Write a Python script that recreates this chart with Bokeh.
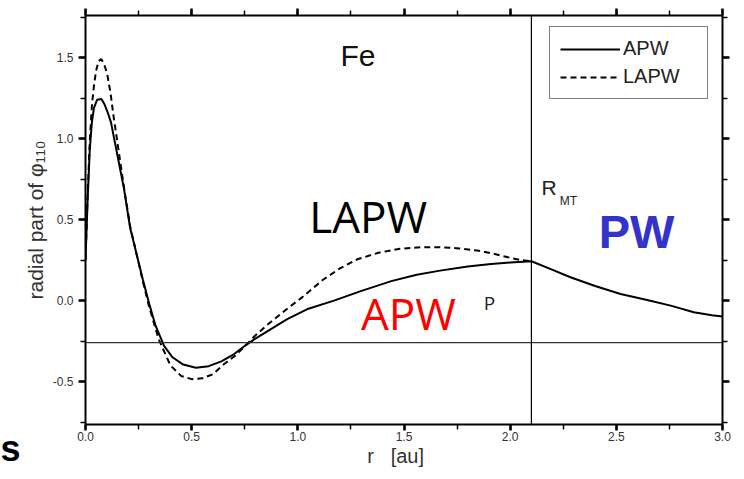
from bokeh.plotting import figure
from bokeh.models import (Span, Label, Legend, LegendItem, LinearAxis, CustomJSTickFormatter,
                          SingleIntervalTicker, PrintfTickFormatter, Range1d)
from bokeh.embed import file_html
from bokeh.resources import INLINE

# ---- data ----
apw_r = [0.0, 0.01, 0.02, 0.03, 0.04, 0.055, 0.075, 0.09, 0.105, 0.12, 0.135,
         0.15, 0.18, 0.21, 0.24, 0.27, 0.30, 0.33, 0.37, 0.41, 0.46, 0.52,
         0.58, 0.64, 0.70, 0.76, 0.80, 0.856, 0.95, 1.05, 1.17, 1.30, 1.44,
         1.56, 1.67, 1.80, 1.91, 2.00, 2.10]
apw_v = [0.25, 0.62, 0.93, 1.10, 1.19, 1.24, 1.245, 1.21, 1.16, 1.10, 1.00,
         0.90, 0.70, 0.45, 0.29, 0.13, -0.02, -0.155, -0.28, -0.35, -0.395, -0.415,
         -0.405, -0.375, -0.33, -0.27, -0.235, -0.19, -0.115, -0.05, 0.0, 0.06, 0.12,
         0.16, 0.185, 0.21, 0.226, 0.235, 0.243]

lapw_r = [0.0, 0.01, 0.02, 0.03, 0.04, 0.05, 0.062, 0.075, 0.09, 0.102, 0.118,
          0.133, 0.15, 0.18, 0.21, 0.24, 0.27, 0.30, 0.345, 0.40, 0.45, 0.50,
          0.55, 0.60, 0.65, 0.70, 0.754, 0.80, 0.856, 0.95, 1.02, 1.12, 1.20,
          1.28, 1.38, 1.48, 1.58, 1.67, 1.76, 1.845, 1.92, 1.99, 2.05, 2.10]
lapw_v = [0.25, 0.65, 0.98, 1.20, 1.33, 1.42, 1.48, 1.49, 1.45, 1.40, 1.28,
          1.13, 0.98, 0.71, 0.46, 0.29, 0.12, -0.04, -0.24, -0.40, -0.465, -0.485,
          -0.48, -0.455, -0.395, -0.345, -0.278, -0.215, -0.15, -0.05, 0.02, 0.13, 0.20,
          0.255, 0.295, 0.32, 0.33, 0.33, 0.322, 0.309, 0.29, 0.267, 0.25, 0.243]

pw_r = [2.10, 2.20, 2.284, 2.40, 2.52, 2.64, 2.756, 2.865, 2.95, 3.00]
pw_v = [0.243, 0.19, 0.144, 0.09, 0.041, 0.005, -0.031, -0.072, -0.09, -0.098]

r_mt = 2.1
energy_line = -0.26
x_ticks_interval = 0.5
y_ticks_interval = 0.5

FONT = "Liberation Sans"
NB = "\u00a0"

p = figure(width=736, height=476, x_range=Range1d(0, 3.0), y_range=Range1d(-0.765, 1.76),
           output_backend="svg", toolbar_location=None,
           min_border_left=85, min_border_right=14, min_border_top=15, min_border_bottom=52)
p.grid.visible = False
p.outline_line_color = None
p.background_fill_color = "white"


def style_axis(ax, labels=True):
    ax.axis_line_width = 2
    ax.axis_line_color = "black"
    ax.major_tick_line_width = 2.5
    ax.minor_tick_line_width = 1.5
    ax.major_tick_out = 7
    ax.major_tick_in = 0
    ax.minor_tick_out = 5
    ax.minor_tick_in = 0
    ax.major_tick_line_color = "black"
    ax.minor_tick_line_color = "black"
    if labels:
        ax.major_label_text_font = FONT
        ax.major_label_text_font_size = "12px"
        ax.major_label_text_color = "#333333"
        ax.formatter = PrintfTickFormatter(format="%.1f")
    else:
        ax.formatter = CustomJSTickFormatter(code="return ''")
        ax.major_label_text_font_size = "1px"
        ax.major_label_standoff = 0


p.xaxis[0].ticker = SingleIntervalTicker(interval=x_ticks_interval, num_minor_ticks=2)
p.yaxis[0].ticker = SingleIntervalTicker(interval=y_ticks_interval, num_minor_ticks=2)
style_axis(p.xaxis[0])
style_axis(p.yaxis[0])
p.xaxis[0].major_tick_out = 6
p.xaxis[0].major_label_standoff = 1
p.yaxis[0].major_label_standoff = 5
p.xaxis[0].axis_label = "r" + NB * 3 + "[au]" + NB * 3
p.yaxis[0].axis_label = "radial part of φ₁₁₀"
for ax in (p.xaxis[0], p.yaxis[0]):
    ax.axis_label_text_font = FONT
    ax.axis_label_text_font_style = "normal"
    ax.axis_label_text_color = "#333333"
p.xaxis[0].axis_label_text_font_size = "20px"
p.yaxis[0].axis_label_text_font_size = "21px"
p.xaxis[0].axis_label_standoff = 1
p.yaxis[0].axis_label_standoff = 3

ax_r = LinearAxis(ticker=SingleIntervalTicker(interval=y_ticks_interval, num_minor_ticks=2))
style_axis(ax_r, labels=False)
p.add_layout(ax_r, "right")
ax_t = LinearAxis(ticker=SingleIntervalTicker(interval=x_ticks_interval, num_minor_ticks=2))
style_axis(ax_t, labels=False)
p.add_layout(ax_t, "above")

# reference lines
p.add_layout(Span(location=energy_line, dimension="width", line_color="#333333", line_width=1.3))
p.add_layout(Span(location=r_mt, dimension="height", line_color="black", line_width=1.2))

# curves
l_lapw = p.line(lapw_r, lapw_v, line_color="black", line_width=2, line_dash="6 4")
l_apw = p.line(apw_r + pw_r, apw_v + pw_v, line_color="black", line_width=2)

legend = Legend(items=[LegendItem(label="APW", renderers=[l_apw]),
                       LegendItem(label="LAPW", renderers=[l_lapw])],
                location=(464, 325), orientation="vertical",
                label_text_font=FONT, label_text_font_size="20px", label_text_color="#222222",
                border_line_color="black", border_line_width=1,
                background_fill_color="white", background_fill_alpha=1,
                glyph_width=60, glyph_height=22, label_height=22, label_width=74,
                label_standoff=3, padding=10, spacing=5, margin=0)
p.add_layout(legend, "center")

# annotations
p.add_layout(Label(x=1.201, y=1.514, text="Fe", text_font=FONT, text_font_size="30px",
                   text_color="#111111", text_align="left", text_baseline="alphabetic"))
p.add_layout(Label(x=1.331, y=0.525, text="LAPW", text_font="Open Sans", text_font_size="44px",
                   text_color="black", text_align="center", text_baseline="alphabetic"))
p.add_layout(Label(x=1.521, y=-0.074, text="APW", text_font="Open Sans", text_font_size="44px",
                   text_color="#ff0000", text_align="center", text_baseline="alphabetic"))
p.add_layout(Label(x=1.875, y=-0.014, text="P", text_font="Open Sans", text_font_size="19px",
                   text_color="#222222", text_align="left", text_baseline="alphabetic"))
p.add_layout(Label(x=2.148, y=0.701, text="R", text_font=FONT, text_font_size="21px",
                   text_color="#222222", text_align="left", text_baseline="alphabetic"))
p.add_layout(Label(x=2.233, y=0.616, text="MT", text_font=FONT, text_font_size="12px",
                   text_color="#222222", text_align="left", text_baseline="alphabetic"))
p.add_layout(Label(x=2.595, y=0.428, text="PW", text_font=FONT, text_font_size="47px",
                   text_font_style="bold", text_color="#3333cc", text_align="center",
                   text_baseline="alphabetic"))
# stray slide glyph at the bottom-left corner, outside the frame
p.add_layout(Label(x=0, y=-24, x_units="screen", y_units="screen", text="s", text_font=FONT,
                   text_font_size="36px", text_font_style="bold", text_color="black",
                   text_align="left", text_baseline="alphabetic"), "left")

open("out.html", "w").write(file_html(p, INLINE))
